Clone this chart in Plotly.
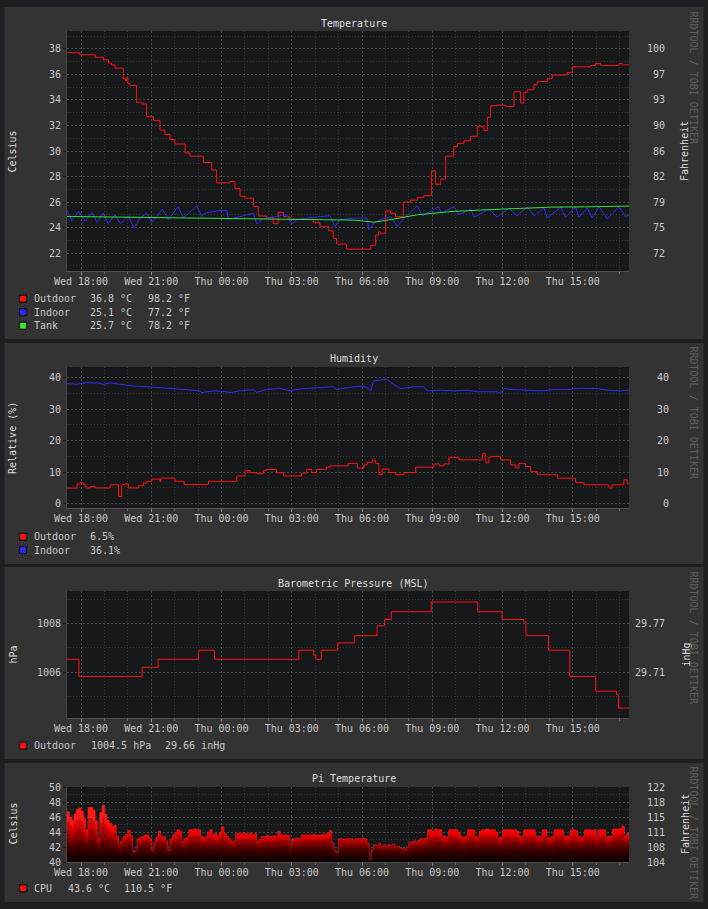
import numpy as np
import pandas as pd
import plotly.graph_objects as go

t0 = pd.Timestamp('2024-07-17 17:24')  # a Wednesday, 24h window

# ---------------- Temperature (hours after start / Celsius) ----------------
out_h = [0, 0.55, 1.2, 1.55, 1.77, 1.9, 2.05, 2.4, 2.5, 2.55, 2.6, 2.69, 2.97, 3.2, 3.4, 3.69,
         3.97, 4.18, 4.4, 4.61, 5.04, 5.25, 5.82, 6.18, 6.39, 6.96, 7.17, 7.39, 7.6, 7.96, 8.17,
         8.52, 8.81, 9.02, 9.24, 9.52, 10.52, 10.8, 11.16, 11.37, 11.51, 11.94, 12.97, 13.18,
         13.3, 13.39, 13.61, 13.82, 14.03, 14.36, 14.67, 14.96, 15.24, 15.56, 15.74, 15.96,
         16.17, 16.52, 16.67, 16.95, 17.24, 17.52, 17.81, 17.95, 18.09, 18.37, 18.73, 19.09,
         19.37, 19.51, 19.66, 19.94, 20.08, 20.51, 20.72, 20.94, 21.36, 21.58, 22.36, 22.57,
         22.79, 23.57, 23.71, 24.0]
out_c = [37.7, 37.55, 37.35, 37.15, 36.9, 36.75, 36.5, 35.65, 35.5, 35.75, 35.3, 35.15, 33.8,
         33.7, 32.7, 32.4, 31.65, 31.3, 30.9, 30.55, 29.85, 29.6, 29.1, 28.5, 27.5, 27.6, 27.05,
         26.45, 26.3, 25.65, 24.9, 24.8, 24.3, 25.2, 24.85, 24.65, 24.4, 24.1, 23.75, 23.15,
         22.7, 22.3, 22.6, 23.4, 23.65, 23.55, 25.3, 25.1, 24.85, 26.0, 26.15, 26.35, 26.5,
         28.45, 27.4, 27.8, 29.6, 30.35, 30.6, 30.8, 31.15, 31.9, 31.6, 32.65, 33.55, 33.6,
         33.5, 34.65, 33.75, 34.6, 34.8, 35.2, 35.45, 35.7, 35.95, 35.95, 36.15, 36.6, 36.7,
         36.85, 36.7, 36.85, 36.75, 36.75]

ind_h = [0, 0.21, 0.5, 0.78, 1.07, 1.28, 1.55, 1.76, 2.05, 2.29, 2.62, 2.86, 3.12, 3.4, 3.62,
         4.08, 4.33, 4.75, 4.97, 5.54, 5.75, 5.89, 6.53, 6.82, 6.89, 7.39, 7.96, 8.1, 8.31,
         8.52, 8.95, 9.38, 9.59, 9.81, 10.23, 11.23, 11.44, 11.65, 12.25, 12.82, 12.89, 13.11,
         13.39, 13.82, 14.11, 14.39, 14.96, 15.17, 15.88, 15.98, 16.52, 16.74, 17.24, 17.38,
         18.02, 18.37, 18.87, 19.22, 19.66, 19.94, 20.37, 20.51, 21.08, 21.29, 21.72, 21.86,
         22.22, 22.43, 22.72, 23.07, 23.57, 23.85, 24.0]
ind_c = [25.34, 24.55, 25.26, 24.48, 25.18, 24.4, 25.13, 24.29, 25.0, 24.29, 24.92, 23.95,
         24.74, 25.13, 24.4, 25.44, 24.61, 25.65, 24.74, 25.7, 24.87, 25.13, 25.34, 25.34,
         24.61, 24.87, 25.13, 24.29, 24.61, 24.74, 24.87, 25.0, 24.29, 24.61, 24.74, 24.92,
         24.08, 24.61, 24.74, 24.74, 23.83, 24.35, 24.61, 24.87, 24.08, 24.74, 25.7, 24.92,
         25.65, 25.13, 25.65, 25.0, 25.44, 24.81, 25.44, 24.81, 25.52, 24.92, 25.6, 24.92,
         25.52, 24.74, 25.6, 24.81, 25.6, 24.81, 25.52, 24.74, 25.65, 24.66, 25.65, 24.87, 25.0]

tank_h = [0, 3, 6, 9, 12.25, 13.1, 13.6, 14.96, 16.45, 17.9, 19.3, 20.7, 22.1, 23.6, 24.0]
tank_c = [24.87, 24.8, 24.7, 24.62, 24.58, 24.42, 24.55, 25.0, 25.26, 25.39, 25.52, 25.6,
          25.62, 25.7, 25.68]

temp_ticks_c = [22, 24, 26, 28, 30, 32, 34, 36, 38]
temp_ticks_f = ['72', '75', '79', '82', '86', '90', '93', '97', '100']
temp_names = ['Outdoor', 'Indoor', 'Tank']
temp_last_c = ['36.8 °C', '25.1 °C', '25.7 °C']
temp_last_f = ['98.2 °F', '77.2 °F', '78.2 °F']

# ---------------- Humidity (%) ----------------
hum_in_h = [0, 0.43, 0.85, 1.28, 1.55, 1.85, 2.26, 2.83, 3.4, 3.97, 4.54, 5.11, 5.68, 5.75,
            6.25, 6.82, 6.96, 7.39, 7.96, 8.1, 8.52, 9.09, 9.52, 9.95, 10.8, 11.37, 11.51,
            12.25, 12.68, 12.89, 12.97, 13.11, 13.39, 13.68, 13.82, 14.25, 14.82, 15.24, 15.38,
            15.95, 16.52, 17.09, 17.52, 17.95, 18.37, 18.52, 18.66, 19.09, 19.66, 20.22, 20.79,
            21.36, 21.93, 22.64, 23.07, 23.64, 24.0]
hum_in = [38.1, 37.9, 38.4, 38.3, 37.9, 38.3, 37.9, 37.3, 37.1, 36.8, 36.4, 36.2, 35.8, 35.2,
          35.8, 35.5, 35.2, 35.8, 36.2, 35.3, 36.2, 36.6, 35.8, 36.4, 36.8, 37.1, 36.2, 37.1,
          37.3, 36.5, 35.8, 39.0, 39.2, 39.4, 38.4, 36.5, 37.1, 37.1, 35.8, 36.0, 35.8, 36.0,
          35.5, 35.6, 35.5, 35.0, 36.5, 36.2, 36.0, 35.8, 36.2, 36.2, 36.6, 36.5, 36.0, 35.8,
          36.0]

hum_out_h = [0, 0.43, 0.555, 0.7, 0.81, 0.98, 1.2, 1.84, 2.2, 2.34, 2.48, 2.62, 3.05, 3.26,
             3.4, 3.62, 3.97, 4.01, 4.61, 5.0, 6.04, 7.25, 7.6, 7.81, 8.1, 8.38, 8.52, 8.95,
             9.24, 10.02, 10.23, 10.45, 10.66, 11.08, 11.23, 12.01, 12.4, 12.68, 12.82, 13.04,
             13.18, 13.32, 13.46, 13.75, 14.03, 14.39, 14.89, 15.67, 15.89, 16.1, 16.31, 16.74,
             17.74, 17.88, 18.02, 18.09, 18.52, 18.94, 19.16, 19.3, 19.58, 19.8, 20.08, 20.94,
             21.72, 22.07, 23.14, 23.28, 23.78, 23.92, 24.0]
hum_out = [4.95, 6.3, 6.7, 6.0, 5.0, 5.5, 5.0, 6.0, 2.3, 6.0, 6.3, 5.0, 5.7, 6.5, 7.1, 7.8,
           7.1, 8.1, 7.1, 6.1, 7.1, 8.8, 10.5, 9.9, 9.5, 10.5, 10.9, 9.9, 8.8, 9.7, 10.9, 9.9,
           10.9, 11.6, 12.0, 12.8, 11.3, 12.3, 13.1, 13.9, 12.8, 9.2, 11.0, 9.9, 9.2, 9.9, 11.6,
           12.6, 12.0, 12.6, 14.7, 13.9, 16.0, 13.0, 14.7, 15.0, 13.9, 12.3, 11.3, 12.8, 11.8,
           10.2, 9.2, 8.1, 6.7, 6.0, 5.0, 6.0, 7.6, 6.3, 6.5]

hum_ticks = [0, 10, 20, 30, 40]
hum_names = ['Outdoor', 'Indoor']
hum_last = ['6.5%', '36.1%']

# ---------------- Barometric pressure (hPa) ----------------
pres_h = [0, 0.51, 3.21, 3.89, 5.62, 6.3, 9.9, 10.54, 10.63, 10.86, 11.56, 12.27, 13.24,
          13.56, 13.85, 15.55, 17.54, 18.58, 19.5, 19.6, 20.56, 21.47, 22.58, 23.47, 23.55, 24.0]
pres = [1006.53, 1005.82, 1006.2, 1006.53, 1006.9, 1006.53, 1006.9, 1006.7, 1006.53, 1006.9,
        1007.2, 1007.5, 1007.9, 1008.16, 1008.48, 1008.88, 1008.48, 1008.16, 1008.06, 1007.5,
        1006.9, 1005.82, 1005.22, 1005.07, 1004.53, 1004.53]
pres_ticks = [1006, 1008]
pres_ticks_inhg = ['29.71', '29.77']
pres_names = ['Outdoor']
pres_last_hpa = ['1004.5 hPa']
pres_last_inhg = ['29.66 inHg']

# ---------------- Pi CPU temperature (one value per 6 min) ----------------
pi_c = [
    46.7, 46.0, 45.5, 46.4, 47.0, 47.2, 46.8, 45.8, 44.3, 47.3,
    47.3, 46.9, 45.5, 43.2, 46.6, 47.6, 46.4, 45.6, 45.2, 44.8,
    44.9, 43.4, 42.5, 42.8, 43.4, 43.7, 44.2, 43.5, 41.4, 41.5,
    43.1, 43.3, 43.4, 43.6, 43.6, 43.2, 41.6, 42.6, 43.3, 44.1,
    43.4, 43.4, 42.8, 41.6, 43.0, 43.6, 43.8, 44.3, 44.1, 42.7,
    43.1, 43.3, 44.3, 44.3, 44.4, 44.3, 44.3, 43.4, 43.3, 43.3,
    44.0, 44.3, 43.6, 43.8, 43.4, 43.9, 44.7, 43.8, 43.4, 43.1,
    42.7, 42.8, 43.8, 43.8, 43.7, 43.9, 43.8, 43.6, 43.9, 43.6,
    43.8, 42.7, 43.0, 43.4, 43.4, 43.5, 43.4, 43.4, 43.5, 43.4,
    44.1, 43.6, 43.6, 43.6, 43.6, 42.3, 43.1, 43.1, 43.2, 43.1,
    43.6, 43.6, 43.6, 43.6, 43.6, 43.7, 43.6, 43.6, 43.6, 43.7,
    43.7, 43.8, 44.2, 42.6, 41.5, 41.3, 43.1, 43.1, 43.0, 43.1,
    43.1, 43.1, 42.9, 43.1, 43.1, 43.1, 43.2, 43.1, 42.5, 40.3,
    41.6, 42.3, 42.2, 42.5, 42.0, 42.3, 42.1, 42.3, 42.2, 42.4,
    42.0, 42.1, 41.9, 41.8, 41.7, 42.0, 42.6, 42.7, 42.8, 42.7,
    42.9, 43.1, 43.1, 43.2, 44.3, 44.3, 44.0, 44.4, 44.3, 44.3,
    43.4, 43.4, 43.3, 44.3, 44.3, 44.3, 44.3, 43.9, 43.4, 43.3,
    43.4, 44.3, 44.3, 44.3, 43.4, 43.3, 44.1, 44.3, 44.3, 44.4,
    44.3, 44.3, 44.3, 44.0, 43.2, 43.3, 44.3, 44.3, 44.3, 44.3,
    44.3, 44.3, 44.1, 43.4, 43.4, 44.3, 44.3, 44.3, 44.3, 44.3,
    43.4, 43.4, 43.4, 44.3, 44.3, 43.2, 43.3, 43.4, 44.3, 44.3,
    44.3, 44.3, 43.4, 43.4, 43.5, 44.3, 44.3, 44.2, 43.4, 43.3,
    43.4, 44.3, 44.3, 44.3, 44.2, 44.3, 43.4, 44.3, 44.3, 44.3,
    43.4, 43.4, 43.4, 44.4, 44.4, 44.4, 44.5, 44.8, 43.4, 43.8,
    43.6]
pi_ticks_c = [40, 42, 44, 46, 48, 50]
pi_ticks_f = ['104', '108', '111', '115', '118', '122']
pi_names = ['CPU']
pi_last_c = ['43.6 °C']
pi_last_f = ['110.5 °F']

# ---------------- styling ----------------
W, H = 708, 909
MONO = 'DejaVu Sans Mono'
BG = '#1e1f22'
PANEL = '#333333'
CANVAS = '#17181a'
TXT = '#c8c8c8'
TITLE = '#dedede'
MARK = '#5e5e5e'
RED, BLUE, GREEN = '#ff1010', '#2a2aff', '#30e830'
NB = '\u00a0'


def px(x):
    return x / W


def py(y):
    return 1 - y / H


def times(h):
    return t0 + pd.to_timedelta(np.asarray(h, dtype=float), unit='h')


pi_h = np.arange(len(pi_c)) * 0.1
PI_BASE = 40

PL, PR = 67, 629
plots = [(31, 271), (367, 508), (591, 718), (787, 862)]
panels = [(7, 339), (343, 564), (567, 759), (763, 902)]

fig = go.Figure()
fig.add_trace(go.Scatter(x=times(out_h), y=out_c, mode='lines', line=dict(color=RED, width=1, shape='hv'),
                         xaxis='x', yaxis='y'))
fig.add_trace(go.Scatter(x=times(ind_h), y=ind_c, mode='lines', line=dict(color=BLUE, width=1),
                         xaxis='x', yaxis='y'))
fig.add_trace(go.Scatter(x=times(tank_h), y=tank_c, mode='lines', line=dict(color=GREEN, width=1),
                         xaxis='x', yaxis='y'))
fig.add_trace(go.Scatter(x=times(hum_in_h), y=hum_in, mode='lines', line=dict(color=BLUE, width=1),
                         xaxis='x2', yaxis='y3'))
fig.add_trace(go.Scatter(x=times(hum_out_h), y=hum_out, mode='lines', line=dict(color=RED, width=1, shape='hv'),
                         xaxis='x2', yaxis='y3'))
fig.add_trace(go.Scatter(x=times(pres_h), y=pres, mode='lines', line=dict(color=RED, width=1, shape='hv'),
                         xaxis='x3', yaxis='y5'))
fig.add_trace(go.Scatter(x=times(pi_h), y=pi_c, mode='lines', line=dict(color='#ff1a1a', width=0.6, shape='hv'),
                         fill='tozeroy',
                         fillgradient=dict(type='vertical', start=40, stop=46,
                                           colorscale=[[0, '#200000'], [0.3, '#7a0000'],
                                                       [0.55, '#dc0000'], [0.7, '#f80000'], [1, '#ff1a1a']]),
                         xaxis='x4', yaxis='y7'))
# darker shading towards the bottom of every column (rrdtool style gradient)
pi_arr = np.asarray(pi_c)
for frac in [0.8, 0.6, 0.4, 0.2]:
    fig.add_trace(go.Scatter(x=times(pi_h), y=PI_BASE + (pi_arr - PI_BASE) * frac, mode='none',
                             fill='tozeroy', fillcolor='rgba(0,0,0,0.2)', line=dict(shape='hv'),
                             xaxis='x4', yaxis='y7'))
# the right-hand (converted unit) axes need a trace to be drawn
for xa, ya, hh, vv in [('x', 'y2', out_h, out_c), ('x2', 'y4', hum_in_h, hum_in),
                       ('x3', 'y6', pres_h, pres), ('x4', 'y8', pi_h, pi_c)]:
    fig.add_trace(go.Scatter(x=times(hh), y=vv, mode='none', xaxis=xa, yaxis=ya))
fig.update_traces(hoverinfo='skip')

tickfont = dict(family=MONO, size=10, color=TXT)
xr = [t0, t0 + pd.Timedelta(hours=24)]


def xaxis(ya, dom_y):
    return dict(domain=[px(PL), px(PR)], anchor=ya, type='date', range=xr, automargin=False,
                tick0='2024-07-17 18:00', dtick=3 * 3600 * 1000, tickformat='%a %H:%M',
                ticks='outside', ticklen=3, tickcolor='#8a8a8a', tickfont=tickfont,
                ticklabelstandoff=-2,
                showgrid=True, gridcolor='#4a4a4a', griddash='2px,2px', gridwidth=1,
                minor=dict(dtick=3600 * 1000, showgrid=True, gridcolor='#363636', griddash='1px,2px',
                           ticks='outside', ticklen=2, tickcolor='#6a6a6a'),
                showline=True, linecolor='#505050', linewidth=1, zeroline=False, fixedrange=True)


def yleft(xa, dom, rng, dtick, minor):
    return dict(domain=dom, anchor=xa, range=rng, tick0=0, dtick=dtick, tickfont=tickfont,
                automargin=False, ticks='outside', ticklen=3, tickcolor=CANVAS,
                showgrid=True, gridcolor='#4a4a4a', griddash='2px,2px',
                minor=dict(dtick=minor, showgrid=True, gridcolor='#363636', griddash='1px,2px'),
                showline=True, linecolor='#464646', zeroline=False, fixedrange=True)


def yright(ya, xa, rng, vals, labels, width, standoff):
    return dict(overlaying=ya, anchor=xa, side='right', range=rng, tickmode='array', tickvals=vals,
                ticktext=[NB * (width - len(s)) + s for s in labels], tickfont=tickfont,
                automargin=False, ticks='outside', ticklen=3, tickcolor=PANEL,
                ticklabelstandoff=standoff,
                showgrid=False, zeroline=False, showline=False, fixedrange=True)


doms = [[py(b), py(t)] for t, b in plots]
r1 = [20.59, 39.41]
r2 = [-1.36, 43.35]
r3 = [1004.12, 1009.33]
r4 = [40, 50]

layout = dict(
    width=W, height=H, margin=dict(l=0, r=0, t=0, b=0, pad=0, autoexpand=False),
    paper_bgcolor=BG, plot_bgcolor=CANVAS, showlegend=False,
    font=dict(family=MONO, size=10, color=TXT),
    xaxis=xaxis('y', doms[0]), xaxis2=xaxis('y3', doms[1]),
    xaxis3=xaxis('y5', doms[2]), xaxis4=xaxis('y7', doms[3]),
    yaxis=yleft('x', doms[0], r1, 2, 1),
    yaxis2=yright('y', 'x', r1, temp_ticks_c, temp_ticks_f, 3, 12),
    yaxis3=yleft('x2', doms[1], r2, 10, 5),
    yaxis4=yright('y3', 'x2', r2, hum_ticks, [str(v) for v in hum_ticks], 2, 22),
    yaxis5=yleft('x3', doms[2], r3, 2, 1),
    yaxis6=yright('y5', 'x3', r3, pres_ticks, pres_ticks_inhg, 5, 0),
    yaxis7=yleft('x4', doms[3], r4, 2, 1),
    yaxis8=yright('y7', 'x4', r4, pi_ticks_c, pi_ticks_f, 3, 12),
)
fig.update_layout(**layout)

shapes = []
for top, bot in panels:
    shapes.append(dict(type='rect', xref='paper', yref='paper', x0=px(4.5), x1=px(703.5),
                       y0=py(bot), y1=py(top), fillcolor=PANEL, line=dict(width=0), layer='below'))
for top, bot in plots:
    shapes.append(dict(type='rect', xref='paper', yref='paper', x0=px(PL), x1=px(PR),
                       y0=py(bot), y1=py(top), fillcolor=CANVAS, line=dict(width=0), layer='below'))

ann = []


def note(text, x, y, color=TXT, xanchor='left', angle=0):
    ann.append(dict(text=text, x=px(x), y=py(y), xref='paper', yref='paper', showarrow=False,
                    xanchor=xanchor, yanchor='middle', textangle=angle,
                    font=dict(family=MONO, size=10, color=color)))


def legend_row(y, color, cols):
    shapes.append(dict(type='rect', xref='paper', yref='paper', x0=px(19.5), x1=px(26.5),
                       y0=py(y + 3.5), y1=py(y - 3.5), fillcolor=color,
                       line=dict(color='#000000', width=1)))
    for x, text in cols:
        note(text, x, y)


# titles
for text, y in [('Temperature', 23.3), ('Humidity', 358.3), ('Barometric Pressure (MSL)', 583.3),
                ('Pi Temperature', 778.3)]:
    note(text, 353.5, y, color=TITLE, xanchor='center')

# axis titles
for text, x, y in [('Celsius', 12, 151.5), ('Relative (%)', 12, 438), ('hPa', 12.5, 655),
                   ('Celsius', 12.5, 824)]:
    note(text, x, y, color=TITLE, xanchor='center', angle=-90)
for text, x, y in [('Fahrenheit', 685, 151), ('inHg', 685.5, 655), ('Fahrenheit', 685, 824)]:
    note(text, x, y, color=TITLE, xanchor='center', angle=-90)

# watermark
for y in [77.5, 412.5, 637.5, 832.5]:
    note('RRDTOOL / TOBI OETIKER', 693, y, color=MARK, xanchor='center', angle=90)

# legends
for i, (name, c, f) in enumerate(zip(temp_names, temp_last_c, temp_last_f)):
    legend_row(298.7 + 13.5 * i, [RED, BLUE, GREEN][i], [(31.5, name), (88, c), (145.5, f)])
for i, (name, v) in enumerate(zip(hum_names, hum_last)):
    legend_row(536.7 + 13.3 * i, [RED, BLUE][i], [(31.5, name), (88, v)])
for name, a, b in zip(pres_names, pres_last_hpa, pres_last_inhg):
    legend_row(745.7, RED, [(31.5, name), (89, a), (163, b)])
for name, a, b in zip(pi_names, pi_last_c, pi_last_f):
    legend_row(888.3, RED, [(31.5, name), (65.5, a), (122, b)])

fig.update_layout(shapes=shapes, annotations=ann)

fig.write_html("out.html", config=dict(displayModeBar=False),
               post_script="document.body.style.margin='0';document.body.style.overflow='hidden';")
